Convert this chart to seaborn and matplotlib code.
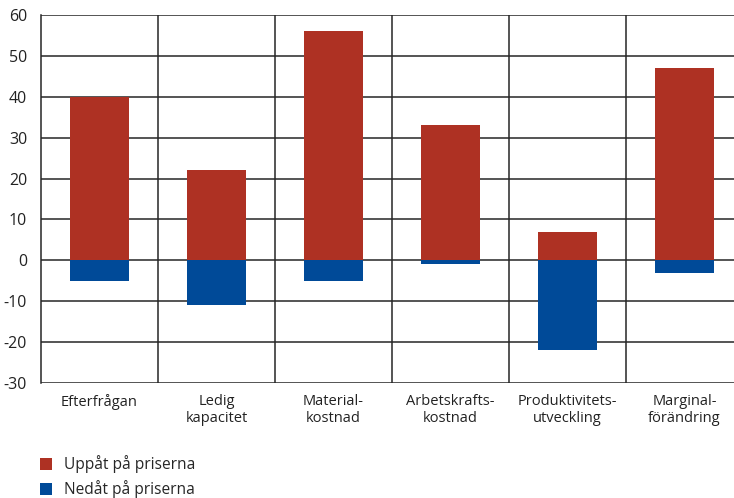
import matplotlib
matplotlib.use("Agg")
import matplotlib.pyplot as plt
from matplotlib.patches import Patch
import seaborn as sns
import pandas as pd

categories = ["Efterfrågan", "Ledig\nkapacitet", "Material-\nkostnad",
              "Arbetskrafts-\nkostnad", "Produktivitets-\nutveckling", "Marginal-\nförändring"]
upp = [40, 22, 56, 33, 7, 47]
ned = [-5, -11, -5, -1, -22, -3]
series_labels = ["Uppåt på priserna", "Nedåt på priserna"]
yticks = [-30, -20, -10, 0, 10, 20, 30, 40, 50, 60]

red = "#AE3123"
blue = "#004A98"

sns.set_theme(style="white")
plt.rcParams["font.family"] = ["Open Sans", "DejaVu Sans"]

df = pd.DataFrame({"kategori": categories, "upp": upp, "ned": ned})

fig = plt.figure(figsize=(7.34, 4.98), dpi=100)
ax = fig.add_axes([41 / 734, 1 - 383 / 498, 1 - 41 / 734, (383 - 15) / 498])

sns.barplot(data=df, x="kategori", y="upp", color=red, width=0.5,
            saturation=1, linewidth=0, edgecolor="none", ax=ax, zorder=3)
sns.barplot(data=df, x="kategori", y="ned", color=blue, width=0.5,
            saturation=1, linewidth=0, edgecolor="none", ax=ax, zorder=3)

ax.set_ylim(-30, 60)
ax.set_yticks(yticks)
ax.set_yticklabels([str(v) for v in yticks], fontsize=11.5, color="#222222")
ax.set_xlim(-0.5, -0.5 + 693 / 117)
ax.set_xlabel("")
ax.set_ylabel("")
ax.tick_params(axis="x", length=0, pad=8, labelsize=10.5, labelcolor="#222222")
ax.tick_params(axis="y", length=0, pad=10)

for v in yticks:
    ax.axhline(v, color="#262626", lw=1.1, zorder=1)
for i in range(len(categories)):
    ax.axvline(i + 0.5, color="#262626", lw=1.1, zorder=1)

for side in ["top", "right", "bottom"]:
    ax.spines[side].set_visible(False)
ax.spines["left"].set_color("#262626")
ax.spines["left"].set_linewidth(1.1)

handles = [Patch(facecolor=red, edgecolor="none"), Patch(facecolor=blue, edgecolor="none")]
fig.legend(handles, series_labels, loc="upper left", bbox_to_anchor=(0.046, 0.098),
           frameon=False, handlelength=0.8, handleheight=0.8, handletextpad=0.75,
           labelspacing=0.45, fontsize=11.2, borderaxespad=0)

fig.savefig("out.png", dpi=100)
